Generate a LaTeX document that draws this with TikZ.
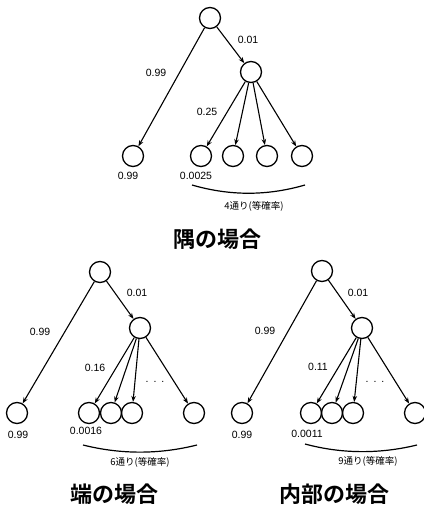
\documentclass[tikz,border=0pt]{standalone}
\usepackage{fontspec}
\setmainfont{Liberation Sans}
\newfontfamily\cjk{Noto Sans CJK JP}[BoldFont={Noto Sans CJK JP Bold}]
\usetikzlibrary{arrows.meta}
\begin{document}
\begin{tikzpicture}[x=1pt,y=-1pt,
  circ/.style={circle,draw,line width=1.3pt,minimum size=21pt,inner sep=0pt},
  arr/.style={-{Stealth[length=6pt,width=4.5pt]},line width=1.1pt},
  lab/.style={font=\fontsize{10.5}{12}\selectfont,inner sep=0pt},
  small/.style={font=\cjk\fontsize{9.5}{11}\selectfont,inner sep=0pt},
  ttl/.style={font=\cjk\bfseries\fontsize{22}{26}\selectfont,inner sep=0pt},
  brace/.style={line width=1.2pt}]
\useasboundingbox (0,0) rectangle (423,510);
% ---------- top tree ----------
\node[circ] (a0) at (210,18) {};
\node[circ] (a1) at (251,72) {};
\node[circ] (aL) at (133,156) {};
\node[circ] (a2) at (201,156) {};
\node[circ] (a3) at (233,156) {};
\node[circ] (a4) at (267,156) {};
\node[circ] (a5) at (302,156) {};
\draw[arr] (a0) -- (aL);
\draw[arr] (a0) -- (a1);
\foreach \k in {2,3,4,5} \draw[arr] (a1) -- (a\k);
\node[lab] (la1) at (248,40) {0.01};
\node[lab] (la2) at (156,73) {0.99};
\node[lab] (la3) at (207,112) {0.25};
\node[lab] (la4) at (128,176) {0.99};
\node[lab] (la5) at (196,176) {0.0025};
\coordinate (aA) at (192,185);
\coordinate (aB) at (305,185);
\draw[brace] (aA) .. controls (230,196) and (267,196) .. (aB);
\node[small] (sa) at (254,206) {4通り(等確率)};
\node[ttl] (ta) at (217,239) {隅の場合};
% ---------- bottom-left tree ----------
\node[circ] (b0) at (100,272) {};
\node[circ] (b1) at (140,328) {};
\node[circ] (bL) at (17,413) {};
\node[circ] (b2) at (89,413) {};
\node[circ] (b3) at (111,413) {};
\node[circ] (b4) at (132,413) {};
\node[circ] (b5) at (194,413) {};
\draw[arr] (b0) -- (bL);
\draw[arr] (b0) -- (b1);
\foreach \k in {2,3,4,5} \draw[arr] (b1) -- (b\k);
\node[lab] (lb1) at (137,293) {0.01};
\node[lab] (lb2) at (40,332) {0.99};
\node[lab] (lb3) at (95,368) {0.16};
\node[lab] (lb4) at (155,382) {.\hspace{5pt}.\hspace{5pt}.};
\node[lab] (lb5) at (18,435) {0.99};
\node[lab] (lb6) at (86,431) {0.0016};
\coordinate (bA) at (83,445);
\coordinate (bB) at (197,445);
\draw[brace] (bA) .. controls (121,454.5) and (159,454.5) .. (bB);
\node[small] (sb) at (140,462) {6通り(等確率)};
\node[ttl] (tb) at (114,494) {端の場合};
% ---------- bottom-right tree ----------
\node[circ] (c0) at (322,271) {};
\node[circ] (c1) at (362,328) {};
\node[circ] (cL) at (242,413) {};
\node[circ] (c2) at (311,413) {};
\node[circ] (c3) at (332,413) {};
\node[circ] (c4) at (353,413) {};
\node[circ] (c5) at (415,413) {};
\draw[arr] (c0) -- (cL);
\draw[arr] (c0) -- (c1);
\foreach \k in {2,3,4,5} \draw[arr] (c1) -- (c\k);
\node[lab] (lc1) at (358,293) {0.01};
\node[lab] (lc2) at (265,331) {0.99};
\node[lab] (lc3) at (318,367) {0.11};
\node[lab] (lc4) at (375,382) {.\hspace{5pt}.\hspace{5pt}.};
\node[lab] (lc5) at (242,435) {0.99};
\node[lab] (lc6) at (307,434) {0.0011};
\coordinate (cA) at (305,444);
\coordinate (cB) at (417,445);
\draw[brace] (cA) .. controls (342,454) and (380,454) .. (cB);
\node[small] (sc) at (368,461) {9通り(等確率)};
\node[ttl] (tc) at (334,494) {内部の場合};
\end{tikzpicture}
\end{document}
